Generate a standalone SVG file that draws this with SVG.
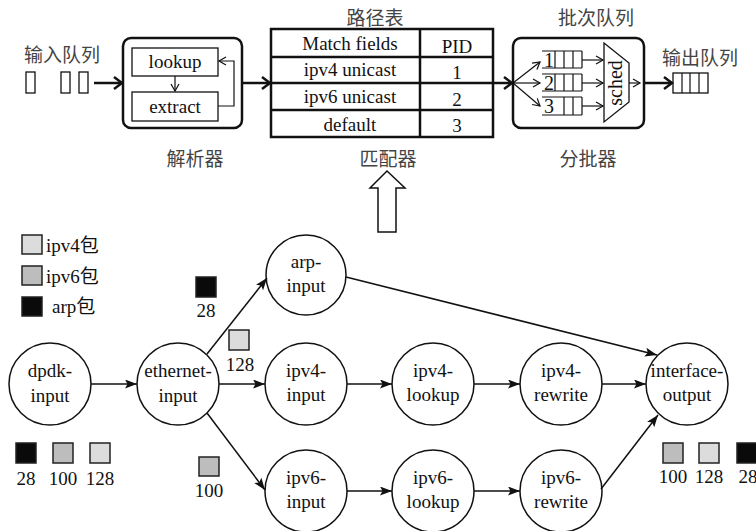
<svg xmlns="http://www.w3.org/2000/svg" width="756" height="531" viewBox="0 0 756 531">
<defs>
<style>
.t{font-family:"Liberation Serif","Noto Sans CJK SC",serif;font-size:19px;fill:#111;text-anchor:middle}
.cn{font-family:"Noto Sans CJK SC",sans-serif;font-size:19px;fill:#444;text-anchor:middle}
.ts{text-anchor:start}
.node circle{fill:#fff;stroke:#111;stroke-width:1.5}
.edge{stroke:#111;stroke-width:1.5;fill:none;marker-end:url(#fa)}
.thick{stroke:#111;stroke-width:2.5;fill:none;marker-end:url(#oa)}
.thin{stroke:#111;stroke-width:1.2;fill:none;marker-end:url(#sa)}
.box{fill:#fff;stroke:#111;stroke-width:1.3}
.rbox{fill:#fff;stroke:#111;stroke-width:2.5}
.tb{stroke:#111;stroke-width:2.5;fill:none}
.ql{stroke:#111;stroke-width:1.2;fill:none}
.sq{stroke:#222;stroke-width:1.5}
.l4{fill:#dcdcdc}
.l6{fill:#bdbdbd}
.la{fill:#0a0a0a}
</style>
<marker id="fa" markerUnits="userSpaceOnUse" markerWidth="13" markerHeight="10" refX="12" refY="4.5" orient="auto">
<path d="M0,0 L12,4.5 L0,9 L2.5,4.5 Z" fill="#111"/>
</marker>
<marker id="oa" markerUnits="userSpaceOnUse" markerWidth="12" markerHeight="14" refX="10" refY="7" orient="auto">
<path d="M2,1 L10,7 L2,13" fill="none" stroke="#111" stroke-width="2.5"/>
</marker>
<marker id="sa" markerUnits="userSpaceOnUse" markerWidth="10" markerHeight="10" refX="8" refY="5" orient="auto">
<path d="M1,1 L8,5 L1,9" fill="none" stroke="#111" stroke-width="1.2"/>
</marker>
</defs>
<rect width="756" height="531" fill="#fff"/>

<!-- Top pipeline -->
<g id="input-queue">
<text class="cn ts" x="24" y="62">输入队列</text>
<rect class="box" x="26" y="72" width="9" height="21"/>
<rect class="box" x="61" y="72" width="9" height="21"/>
<rect class="box" x="79" y="72" width="9" height="21"/>
</g>

<g id="parser">
<rect class="rbox" x="123" y="38" width="119" height="90" rx="8"/>
<rect class="box" x="132" y="48" width="86" height="28"/>
<text class="t" x="175" y="68">lookup</text>
<rect class="box" x="132" y="92" width="86" height="29"/>
<text class="t" x="175" y="113">extract</text>
<path class="thin" d="M175,76 L175,91"/>
<path class="thin" d="M218,106 L234,106 L234,61 L219,61"/>
<text class="cn" x="195" y="166">解析器</text>
</g>

<g id="matcher">
<text class="cn" x="375" y="25">路径表</text>
<rect class="tb" x="271" y="29" width="222" height="108"/>
<path class="tb" d="M420,29 V137 M271,57 H493 M271,83 H493 M271,110 H493"/>
<text class="t" x="350" y="50">Match fields</text>
<text class="t" x="457" y="53">PID</text>
<text class="t" x="350" y="76">ipv4 unicast</text>
<text class="t" x="457" y="79">1</text>
<text class="t" x="350" y="103">ipv6 unicast</text>
<text class="t" x="457" y="106">2</text>
<text class="t" x="350" y="131">default</text>
<text class="t" x="457" y="132">3</text>
<text class="cn" x="388" y="166">匹配器</text>
<polygon points="387,171 405,188 396,188 396,232 378,232 378,188 370,188" fill="#fff" stroke="#111" stroke-width="1.5"/>
</g>

<g id="batcher">
<text class="cn" x="596" y="25">批次队列</text>
<rect class="rbox" x="513" y="38" width="131" height="90" rx="8"/>
<path class="thin" d="M513,83 L540,62"/>
<path class="thin" d="M513,83 L540,83"/>
<path class="thin" d="M513,83 L540,106"/>
<path class="ql" d="M542,51 H582 M542,68 H582 M555,51 V68 M564,51 V68 M573,51 V68 M582,51 V68"/>
<path class="ql" d="M542,74 H582 M542,91 H582 M555,74 V91 M564,74 V91 M573,74 V91 M582,74 V91"/>
<path class="ql" d="M542,97 H582 M542,115 H582 M564,97 V115 M573,97 V115 M582,97 V115"/>
<text class="t" x="549" y="67" style="font-size:20px">1</text>
<text class="t" x="549" y="90" style="font-size:20px">2</text>
<text class="t" x="549" y="113" style="font-size:20px">3</text>
<path class="thin" d="M582,60 L603,60"/>
<path class="thin" d="M582,83 L603,83"/>
<path class="thin" d="M582,106 L603,106"/>
<polygon points="604,43 629,63 629,102 604,122" fill="#fff" stroke="#111" stroke-width="1.3"/>
<text class="t" transform="translate(622,83) rotate(-90)" x="0" y="0" style="font-size:20px">sched</text>
<path class="thin" d="M629,83 L640,83"/>
<text class="cn" x="588" y="166">分批器</text>
</g>

<g id="output-queue">
<text class="cn" x="700" y="65">输出队列</text>
<rect class="box" x="673" y="73" width="35" height="20"/>
<path class="ql" d="M682,73 V93 M690,73 V93 M699,73 V93"/>
</g>

<g id="pipeline-connectors">
<path class="thick" d="M94,83 L122,83"/>
<path class="thick" d="M242,83 L270,83"/>
<path class="thick" d="M493,83 L512,83"/>
<path class="thick" d="M644,83 L672,83"/>
</g>

<!-- Legend -->
<g id="legend">
<rect class="sq l4" x="22" y="235" width="20" height="19"/>
<text class="t ts" x="46" y="252">ipv4包</text>
<rect class="sq l6" x="22" y="266" width="20" height="19"/>
<text class="t ts" x="46" y="283">ipv6包</text>
<rect class="sq la" x="22" y="297" width="20" height="19"/>
<text class="t ts" x="52" y="313">arp包</text>
</g>

<!-- Graph nodes -->
<g id="dpdk-input" class="node"><circle cx="50" cy="384" r="41"/><text class="t" x="50" y="377">dpdk-</text><text class="t" x="50" y="402">input</text></g>
<g id="ethernet-input" class="node"><circle cx="178" cy="384" r="41"/><text class="t" x="178" y="377">ethernet-</text><text class="t" x="178" y="402">input</text></g>
<g id="arp-input" class="node"><circle cx="306" cy="275" r="40"/><text class="t" x="306" y="268">arp-</text><text class="t" x="306" y="292">input</text></g>
<g id="ipv4-input" class="node"><circle cx="306" cy="384" r="41"/><text class="t" x="306" y="377">ipv4-</text><text class="t" x="306" y="401">input</text></g>
<g id="ipv4-lookup" class="node"><circle cx="433" cy="384" r="41"/><text class="t" x="433" y="377">ipv4-</text><text class="t" x="433" y="401">lookup</text></g>
<g id="ipv4-rewrite" class="node"><circle cx="561" cy="384" r="41"/><text class="t" x="561" y="377">ipv4-</text><text class="t" x="561" y="401">rewrite</text></g>
<g id="interface-output" class="node"><circle cx="687" cy="384" r="41"/><text class="t" x="687" y="377">interface-</text><text class="t" x="687" y="401">output</text></g>
<g id="ipv6-input" class="node"><circle cx="306" cy="491" r="41"/><text class="t" x="306" y="484">ipv6-</text><text class="t" x="306" y="508">input</text></g>
<g id="ipv6-lookup" class="node"><circle cx="433" cy="491" r="41"/><text class="t" x="433" y="484">ipv6-</text><text class="t" x="433" y="508">lookup</text></g>
<g id="ipv6-rewrite" class="node"><circle cx="561" cy="491" r="41"/><text class="t" x="561" y="484">ipv6-</text><text class="t" x="561" y="508">rewrite</text></g>

<!-- Graph connectors -->
<g id="connectors">
<path class="edge" d="M91,384 L137,384"/>
<path class="edge" d="M207,354 L267,278"/>
<path class="edge" d="M219,384 L265,384"/>
<path class="edge" d="M207,413 L265,490"/>
<path class="edge" d="M346,277 L657,355"/>
<path class="edge" d="M347,384 L392,384"/>
<path class="edge" d="M474,384 L520,384"/>
<path class="edge" d="M602,384 L646,384"/>
<path class="edge" d="M347,491 L392,491"/>
<path class="edge" d="M474,491 L520,491"/>
<path class="edge" d="M601,489 L658,415"/>
</g>

<!-- Packet size labels -->
<g id="packets">
<rect class="sq la" x="196" y="277" width="20" height="20"/>
<text class="t" x="206" y="317">28</text>
<rect class="sq l4" x="229" y="330" width="20" height="20"/>
<text class="t" x="240" y="371">128</text>
<rect class="sq l6" x="199" y="457" width="20" height="19"/>
<text class="t" x="209" y="497">100</text>
<rect class="sq la" x="16" y="443" width="20" height="20"/>
<rect class="sq l6" x="53" y="443" width="20" height="20"/>
<rect class="sq l4" x="90" y="443" width="20" height="20"/>
<text class="t" x="26" y="485">28</text>
<text class="t" x="63" y="485">100</text>
<text class="t" x="100" y="485">128</text>
<rect class="sq l6" x="663" y="443" width="20" height="20"/>
<rect class="sq l4" x="699" y="443" width="20" height="20"/>
<rect class="sq la" x="737" y="443" width="20" height="20"/>
<text class="t" x="673" y="483">100</text>
<text class="t" x="709" y="483">128</text>
<text class="t" x="748" y="483">28</text>
</g>
</svg>
